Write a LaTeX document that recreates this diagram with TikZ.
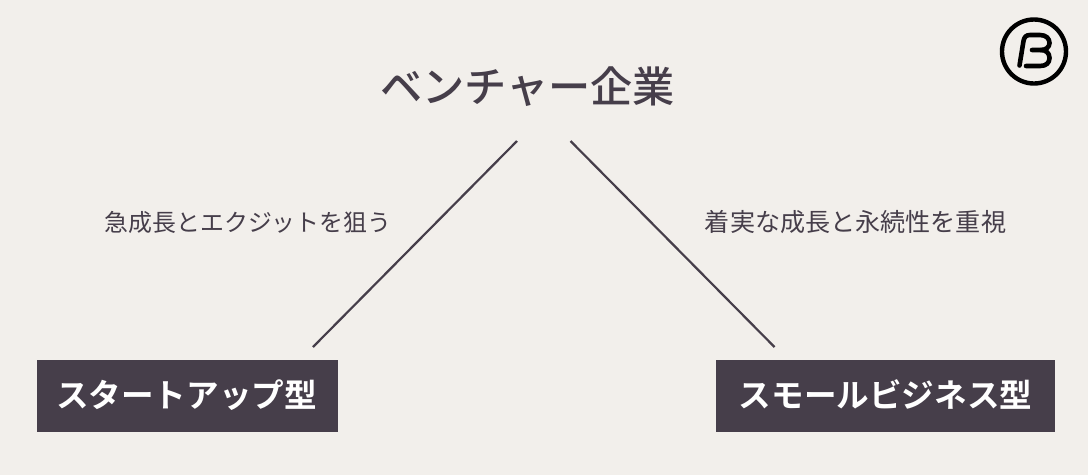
\documentclass[tikz,border=0pt]{standalone}
\usepackage{fontspec}
\newfontfamily\cjk{Noto Sans CJK JP}
\newfontfamily\cjkmedium{Noto Sans CJK JP Medium}
\newfontfamily\cjkbold{Noto Sans CJK JP Bold}
\usetikzlibrary{positioning}
\definecolor{paper}{HTML}{F2EFEB}
\definecolor{ink}{HTML}{463E4A}
\tikzset{
  headline/.style={text=ink,inner sep=0pt,font=\cjkmedium\fontsize{42.2}{42}\selectfont},
  caption/.style={text=ink,inner sep=0pt,font=\cjk\fontsize{#1}{25}\selectfont},
  typebox/.style={fill=ink,text=white,inner sep=0pt,text height=27pt,text depth=3pt,font=\cjkbold\fontsize{32.6}{33}\selectfont},
  link/.style={draw=ink,line width=2.2pt}
}
\begin{document}
\begin{tikzpicture}[x=1pt,y=-1pt]
\useasboundingbox[fill=paper] (0,0) rectangle (1088,475);
\node [headline] (venture) at (527.5,87) {ベンチャー企業};
\node [caption=23.9] (fast) at (248,222) {急成長とエクジットを狙う};
\node [caption=25.1] (steady) at (855.5,222) {着実な成長と永続性を重視};
\node [typebox,minimum width=301pt,minimum height=72pt] (startup) at (187.5,395.5) {\hspace{-2pt}スタートアップ型};
\node [typebox,minimum width=339pt,minimum height=72pt] (small) at (885.5,395.5) {スモールビジネス型};
\coordinate (leftTop) at (517,141);
\coordinate (leftEnd) at (313,347);
\coordinate (rightTop) at (570.5,141);
\coordinate (rightEnd) at (774.5,347);
\draw [link] (leftTop) -- (leftEnd);
\draw [link] (rightTop) -- (rightEnd);
% logo
\draw [black,line width=4.4pt] (1034,51.5) circle (32);
\draw [black,line width=4.6pt,line cap=round,line join=round] (1019.5,65.5) -- (1023.5,41) .. controls (1024.3,37) and (1026,35) .. (1030,35) -- (1040,35) .. controls (1046,35) and (1049.5,38.5) .. (1049.5,43) .. controls (1049.5,47) and (1046,50) .. (1041,50) -- (1032,50);
\draw [black,line width=4.6pt,line cap=round,line join=round] (1041,50) .. controls (1046,50) and (1049.5,53) .. (1049.5,58) .. controls (1049.5,63) and (1046,66) .. (1040,66) -- (1026,66);
\end{tikzpicture}
\end{document}
